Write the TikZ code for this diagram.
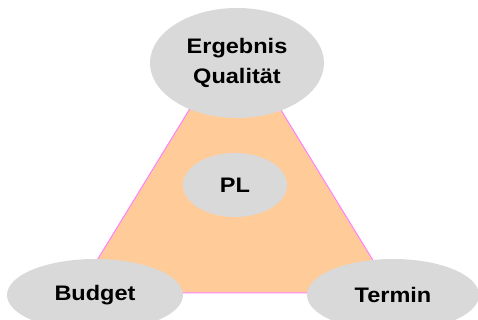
\documentclass[tikz,border=0pt]{standalone}
\usepackage{fontspec}
\usepackage{xcolor}
\usepackage{tikz}
\usetikzlibrary{backgrounds}
\usetikzlibrary{shapes.geometric}
\newfontfamily\labelfont{Liberation Sans}[FakeStretch=1.12]
\definecolor{ovalgray}{RGB}{217,217,217}
\definecolor{peach}{RGB}{255,204,153}
\definecolor{rim}{RGB}{255,128,255}

\begin{document}
\begin{tikzpicture}[x=1pt, y=1pt, every node/.style={ellipse, fill=ovalgray, inner sep=0pt, align=center, font=\labelfont\bfseries\fontsize{21}{30}\selectfont}]
				\useasboundingbox (0,0) rectangle (478,320);
				\node[minimum width=174, minimum height=110] (quality) at (237,257) {Ergebnis\\Qualit\"at};
				\node[minimum width=104, minimum height=64] (pl) at (235,135) {PL};
				\node[minimum width=176, minimum height=72] (budget) at (95,25) {Budget};
				\node[minimum width=172, minimum height=72] (termin) at (393,25) {Termin};
				\coordinate (apex) at (235,285);
				\coordinate (left) at (77,27);
				\coordinate (right) at (393,27);
				\begin{scope}[on background layer]
					\draw[rim, fill=peach, line width=1pt] (apex) -- (left) -- (right) -- cycle;
				\end{scope}
		\end{tikzpicture}
\end{document}
